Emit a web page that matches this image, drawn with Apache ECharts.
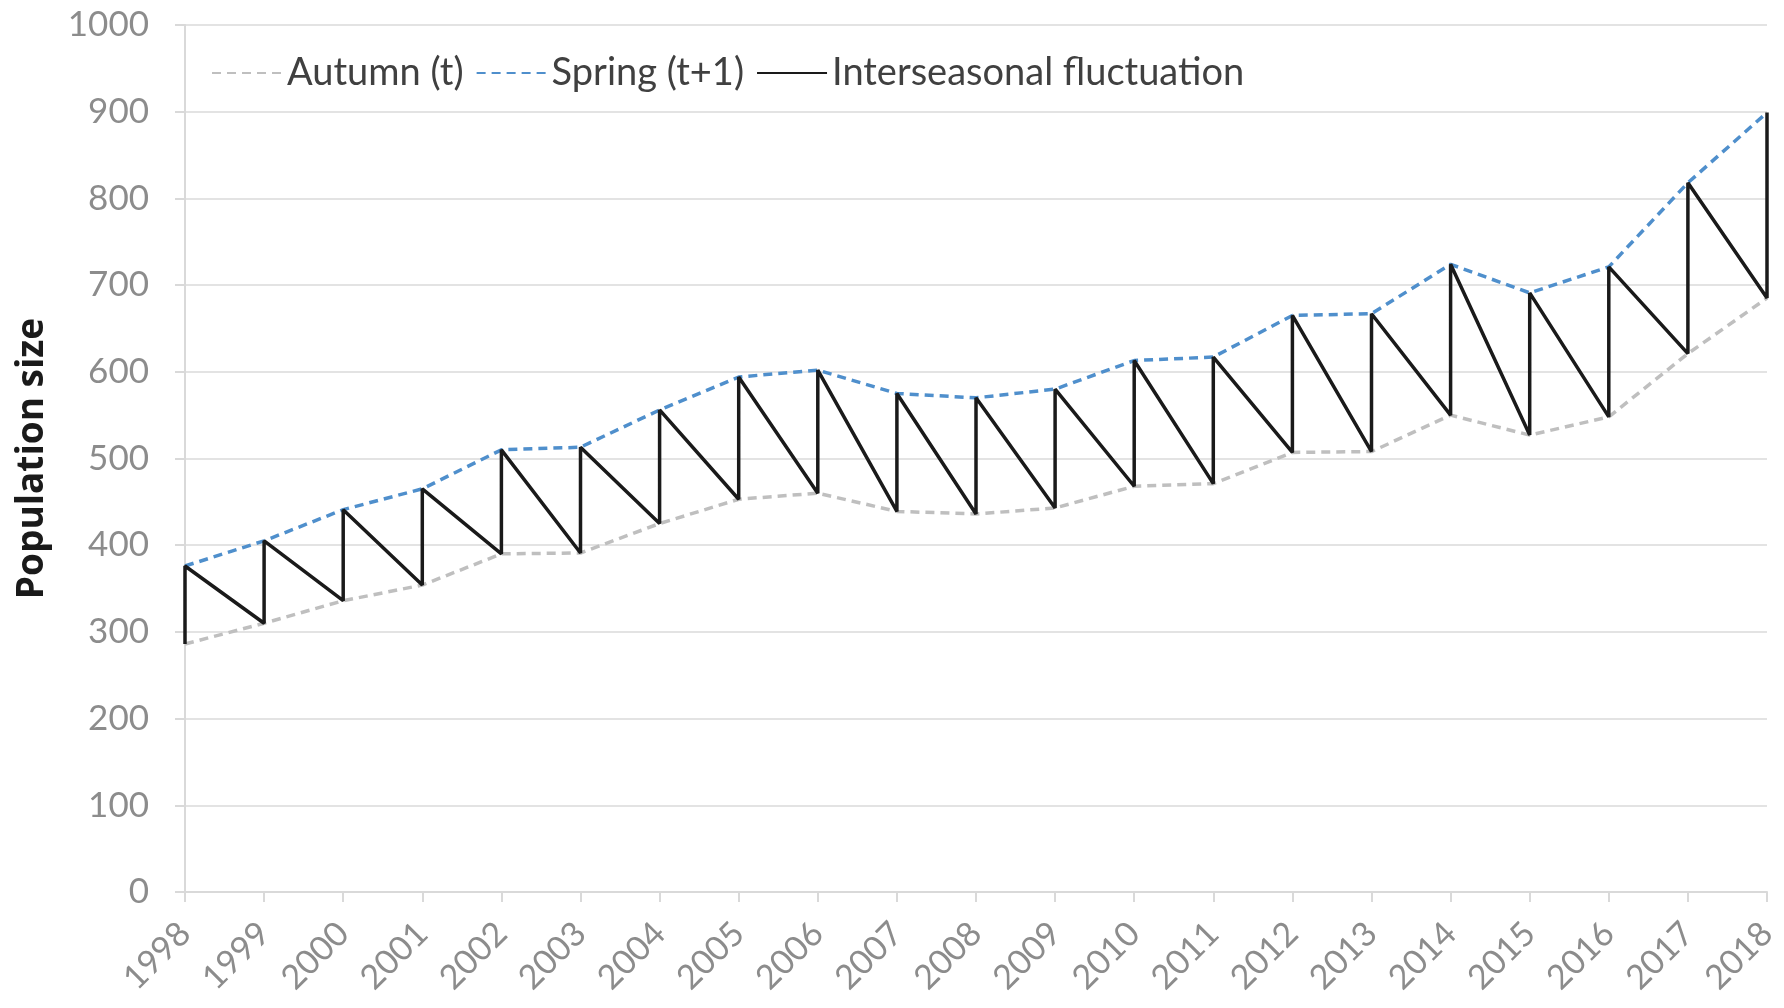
<!DOCTYPE html>
<html>
<head>
<meta charset="utf-8">
<script src="https://cdn.jsdelivr.net/npm/echarts@6/dist/echarts.min.js"></script>
<style>
  html, body { margin: 0; padding: 0; background: #fff; }
  #chart { width: 1784px; height: 1008px; }
</style>
</head>
<body>
<div id="chart"></div>
<script>
var years = ['1998', '1999', '2000', '2001', '2002', '2003', '2004', '2005', '2006', '2007',
    '2008', '2009', '2010', '2011', '2012', '2013', '2014', '2015', '2016', '2017', '2018'];
// 秋季数量 (t)
var autumn = [286, 310, 336, 354, 390, 391, 425, 453, 460, 439, 436, 443, 468, 471, 507, 508, 550, 527, 548, 621, 685];
// 春季数量 (t+1)
var spring = [376, 405, 441, 465, 510, 513, 556, 594, 602, 575, 570, 580, 613, 617, 665, 667, 724, 691, 721, 818, 899];
var yTicks = [0, 100, 200, 300, 400, 500, 600, 700, 800, 900, 1000];

//锯齿线：每年先从秋季竖直到春季，再斜到下一年秋季
var fluct = [];
for (var i = 0; i < years.length; i++) {
    fluct.push([years[i], autumn[i]]);
    fluct.push([years[i], spring[i]]);
}

var myChart = echarts.init(document.getElementById('chart'));
var option = {
    animation: false,
    textStyle: { fontFamily: 'Lato' },
    grid: {
        left: 185,
        right: 17,
        top: 25,
        bottom: 116
    },
    legend: {
        left: 206,
        top: 49,
        itemWidth: 70,
        itemHeight: 14,
        itemGap: 12,
        itemStyle: { opacity: 0 },
        textStyle: { fontSize: 38, color: '#404040', fontFamily: 'Lato' },
        data: ['Autumn (t)', 'Spring (t+1)', 'Interseasonal fluctuation']
    },
    xAxis: {
        type: 'category',
        data: years,
        boundaryGap: false,
        axisLine: { lineStyle: { color: '#d9d9d9', width: 2 } },
        axisTick: { show: true, length: 10, lineStyle: { color: '#d9d9d9', width: 2 } },
        axisLabel: {
            rotate: 45,
            fontSize: 34,
            color: '#8c8c8c',
            margin: 36,
            interval: 0
        },
        splitLine: { show: false }
    },
    yAxis: {
        type: 'value',
        min: yTicks[0],
        max: yTicks[yTicks.length - 1],
        interval: 100,
        name: 'Population size',
        nameLocation: 'middle',
        nameGap: 134,
        nameTextStyle: { fontSize: 37, fontWeight: 'bold', color: '#1a1a1a', fontFamily: 'Open Sans' },
        axisLine: { show: true, lineStyle: { color: '#d9d9d9', width: 2 } },
        axisTick: { show: true, length: 10, lineStyle: { color: '#d9d9d9', width: 2 } },
        axisLabel: {
            fontSize: 35,
            color: '#8c8c8c',
            margin: 36,
            formatter: function(v) { return String(v); }
        },
        splitLine: { lineStyle: { color: '#e3e3e3', width: 2 } }
    },
    series: [{
        name: 'Autumn (t)',
        type: 'line',
        data: autumn,
        symbol: 'none',
        lineStyle: { color: '#bfbfbf', width: 3.5, type: [9, 6] },
        itemStyle: { color: '#bfbfbf' },
        z: 2
    }, {
        name: 'Spring (t+1)',
        type: 'line',
        data: spring,
        symbol: 'none',
        lineStyle: { color: '#4f8fcc', width: 3.5, type: [9, 6] },
        itemStyle: { color: '#4f8fcc' },
        z: 2
    }, {
        name: 'Interseasonal fluctuation',
        type: 'line',
        data: fluct,
        symbol: 'none',
        lineStyle: { color: '#1a1a1a', width: 3.5 },
        itemStyle: { color: '#1a1a1a' },
        z: 3
    }]
};
myChart.setOption(option);
</script>
</body>
</html>
